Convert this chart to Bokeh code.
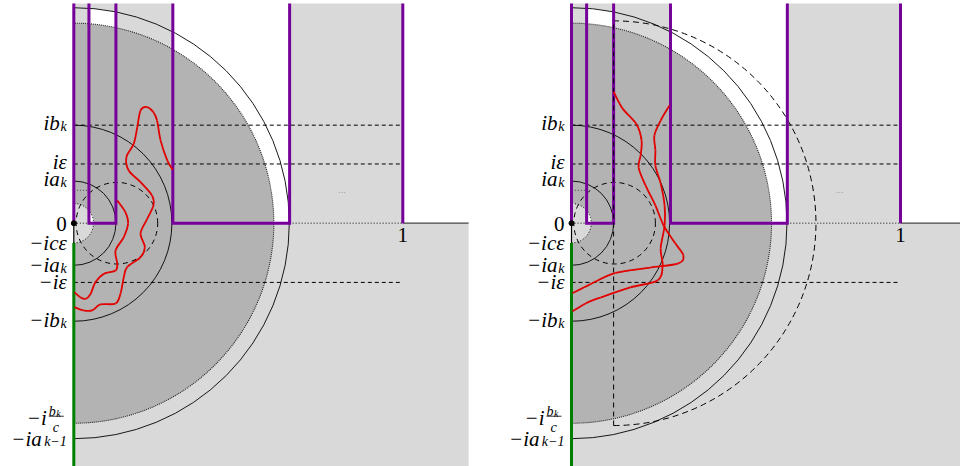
import numpy as np
from bokeh.plotting import figure
from bokeh.layouts import row
from bokeh.models import Range1d
from bokeh.embed import file_html
from bokeh.resources import INLINE
from bokeh.core.properties import value

# ---------------- data (units: the tick "1" sits at x = 1) ----------------
comb_x = [0.0, 0.046, 0.128, 0.301, 0.656, 1.0]   # walls of the comb (purple)
a_k = 0.128
b_k = 0.298
eps = 0.180
c_eps = 0.060
bk_over_c = 0.608
a_km1 = 0.655
dash_circ_center = 0.131
dash_circ_r = 0.124
shift_disk_r = 0.615          # right panel: dashed disk centred at a_k
dotted_level = 0.100
dots_pos = [0.815, 0.103]
comb_top = 0.668
panel_extent = 1.2

tick_values = [b_k, eps, a_k, 0.0, -c_eps, -a_k, -eps, -b_k, -a_km1]
tick_base = ["ib", "iε", "ia", "0", "−icε", "−ia", "−iε", "−ib", "−ia"]
tick_sub = ["k", "", "k", "", "", "k", "", "k", "k−1"]
tick_dy = [-2, -2, -2, 0.5, 0.5, 0, 0, -1, 0]

# red curves (left panel)
left_red_a_x = [0.301, 0.284, 0.264, 0.253, 0.242, 0.223, 0.203, 0.193, 0.182, 0.160, 0.167,
                0.203, 0.238, 0.242, 0.223, 0.203, 0.216, 0.203, 0.162, 0.152, 0.142, 0.127,
                0.081, 0.056, 0.029, 0.002]
left_red_a_y = [0.162, 0.191, 0.251, 0.312, 0.337, 0.353, 0.343, 0.292, 0.241, 0.201, 0.160,
                0.125, 0.084, 0.054, 0.013, -0.031, -0.073, -0.103, -0.134, -0.164, -0.214,
                -0.244, -0.247, -0.265, -0.265, -0.255]
left_red_b_x = [0.132, 0.157, 0.165, 0.152, 0.127, 0.132, 0.127, 0.091, 0.066, 0.051, 0.036,
                0.020, 0.002]
left_red_b_y = [0.069, 0.033, -0.001, -0.042, -0.083, -0.123, -0.144, -0.154, -0.179, -0.215,
                -0.230, -0.225, -0.210]
# red curves (right panel)
right_red_a_x = [0.128, 0.155, 0.198, 0.213, 0.210, 0.204, 0.225, 0.255, 0.280, 0.316, 0.340,
                 0.325, 0.240, 0.134, 0.058, 0.003]
right_red_a_y = [0.400, 0.349, 0.300, 0.251, 0.206, 0.169, 0.115, 0.054, -0.007, -0.062,
                 -0.098, -0.122, -0.135, -0.151, -0.185, -0.213]
right_red_b_x = [0.298, 0.271, 0.252, 0.255, 0.255, 0.271, 0.283, 0.283, 0.271, 0.277, 0.261,
                 0.179, 0.088, 0.043, 0.003]
right_red_b_y = [0.358, 0.312, 0.267, 0.221, 0.175, 0.121, 0.054, -0.007, -0.077, -0.129,
                 -0.174, -0.195, -0.226, -0.244, -0.268]

# ---------------- styling / layout ----------------
SCALE = 329.0       # px per unit
H = 466
ORIGIN_TOP = 222.7
LIGHT = "#d9d9d9"
DARK = "#b3b3b3"
PURPLE = "#75009a"
GREEN = "#008000"
RED = "#e20000"
FONT = value("Liberation Serif")
SUBW = {"k": 7.0, "k−1": 25.0, "": 0.0}
LX = -7


def make_fig(w, ox):
    x0, x1 = -ox / SCALE, (w - ox) / SCALE
    y0, y1 = -(H - ORIGIN_TOP) / SCALE, ORIGIN_TOP / SCALE
    p = figure(width=w, height=H, x_range=Range1d(x0, x1), y_range=Range1d(y0, y1),
               output_backend="svg", toolbar_location=None,
               x_axis_location=None, y_axis_location=None, min_border=0,
               outline_line_color=None, background_fill_color="white",
               border_fill_color="white")
    p.xgrid.visible = False
    p.ygrid.visible = False
    return p, x0, x1, y0, y1


def smooth_curve(p, xs, ys, **kw):
    # Catmull-Rom through the read points, drawn as cubic Bezier segments
    P = np.column_stack([xs, ys])
    n = len(P)
    Pe = np.vstack([P[0], P, P[-1]])
    c0 = P[:-1] + (Pe[2:n + 1] - Pe[0:n - 1]) / 6.0
    c1 = P[1:] - (Pe[3:n + 2] - Pe[1:n]) / 6.0
    p.bezier(x0=P[:-1, 0], y0=P[:-1, 1], x1=P[1:, 0], y1=P[1:, 1],
             cx0=c0[:, 0], cy0=c0[:, 1], cx1=c1[:, 0], cy1=c1[:, 1], **kw)


def draw_panel(p, x0, x1, y0, y1, reds, right=False):
    t0, t1, t2, t3, t4, t5 = comb_x
    top = comb_top
    ext = panel_extent
    # domain (light grey)
    p.quad(left=[0], right=[ext], bottom=[y0 - 0.05], top=[0], color=LIGHT, line_color=None)
    p.quad(left=[t0, t4], right=[t3, t5], bottom=[0, 0], top=[top, top], color=LIGHT, line_color=None)
    # dark annulus
    p.annular_wedge(x=0, y=0, inner_radius=c_eps, outer_radius=bk_over_c,
                    start_angle=-np.pi / 2, end_angle=np.pi / 2, color=DARK, line_color=None)
    # white parts of the first tooth
    xs = np.linspace(t1, t2, 40)
    up = np.sqrt(a_km1 ** 2 - xs ** 2)
    lo = np.sqrt(bk_over_c ** 2 - xs ** 2)
    p.patch(np.concatenate([xs, xs[::-1]]), np.concatenate([lo, up[::-1]]),
            color="white", line_color=None)
    xs2 = np.linspace(t1, c_eps, 20)
    ys2 = np.sqrt(np.clip(c_eps ** 2 - xs2 ** 2, 0, None))
    p.patch(np.concatenate([[t1], xs2]), np.concatenate([[0], ys2]), color="white", line_color=None)

    # circles
    for r in (a_k, b_k, a_km1):
        p.arc(x=0, y=0, radius=r, start_angle=-np.pi / 2, end_angle=np.pi / 2,
              line_color="black", line_width=0.9)
    p.arc(x=0, y=0, radius=bk_over_c, start_angle=-np.pi / 2, end_angle=np.pi / 2,
          line_color="#222222", line_width=1.1, line_dash="1 1")
    p.arc(x=0, y=0, radius=c_eps, start_angle=-np.pi / 2, end_angle=np.pi / 2,
          line_color="black", line_width=1.0, line_dash="1 2")
    p.arc(x=dash_circ_center, y=0, radius=dash_circ_r, start_angle=0, end_angle=2 * np.pi,
          line_color="black", line_width=1.0, line_dash="5 4")
    # horizontal dashed levels
    lv = [b_k, eps, -eps]
    p.segment(x0=[0] * 3, x1=[t5] * 3, y0=lv, y1=lv, line_color="black", line_width=1.0,
              line_dash="4 3")
    # axis pieces
    p.segment(x0=[t0, t4], x1=[t1, t5], y0=[0, 0], y1=[0, 0], line_color="black",
              line_width=1.0, line_dash="1 2")
    p.segment(x0=[0.01], x1=[t1], y0=[dotted_level], y1=[dotted_level], line_color="#444444",
              line_width=1.0, line_dash="1 2")
    p.segment(x0=[t5], x1=[ext], y0=[0], y1=[0], line_color="#444444", line_width=1.3)
    p.segment(x0=[0], x1=[0], y0=[0], y1=[-c_eps], line_color="black", line_width=1.2)

    if right:
        p.arc(x=a_k, y=0, radius=shift_disk_r, start_angle=-np.pi / 2, end_angle=np.pi / 2,
              line_color="black", line_width=1.0, line_dash="6 4")

    # purple comb
    p.multi_line(xs=[[t0, t0], [t1, t1, t2, t2], [t3, t3, t4, t4], [t5, t5]],
                 ys=[[top, 0], [top, 0, 0, top], [top, 0, 0, top], [0, top]],
                 line_color=PURPLE, line_width=3, line_join="miter")
    if right:
        p.segment(x0=[a_k], x1=[a_k], y0=[-shift_disk_r], y1=[shift_disk_r],
                  line_color="black", line_width=1.0, line_dash="5 4")
    # green part of imaginary axis
    p.segment(x0=[0], x1=[0], y0=[-c_eps], y1=[y0 - 0.05], line_color=GREEN, line_width=3)
    p.scatter(x=[0], y=[0], size=5, color="black")

    # red curves
    for cx, cy in reds:
        smooth_curve(p, cx, cy, line_color=RED, line_width=1.8)

    # labels
    for v, b, s, dy in zip(tick_values, tick_base, tick_sub, tick_dy):
        sw = SUBW[s]
        style = "normal" if b == "0" else "italic"
        p.text(x=[0], y=[v], text=[b], x_offset=LX - sw, y_offset=dy, text_align="right",
               text_baseline="alphabetic", text_font=FONT, text_font_style=style,
               text_font_size="21px", text_color="black")
        if s:
            p.text(x=[0], y=[v], text=[s], x_offset=LX, y_offset=dy + 3, text_align="right",
                   text_baseline="alphabetic", text_font=FONT, text_font_style="italic",
                   text_font_size="14px", text_color="black")
    # fraction label  -i b_k / c
    v = -bk_over_c
    p.text(x=[0], y=[v], text=["−i"], x_offset=-27, y_offset=-5, text_align="right",
           text_baseline="alphabetic", text_font=FONT, text_font_style="italic",
           text_font_size="21px", text_color="black")
    p.text(x=[0], y=[v], text=["b"], x_offset=-25, y_offset=-12, text_align="left",
           text_baseline="alphabetic", text_font=FONT, text_font_style="italic",
           text_font_size="14px", text_color="black")
    p.text(x=[0], y=[v], text=["k"], x_offset=-17.5, y_offset=-10, text_align="left",
           text_baseline="alphabetic", text_font=FONT, text_font_style="italic",
           text_font_size="10px", text_color="black")
    p.text(x=[0], y=[v], text=["c"], x_offset=-18, y_offset=4, text_align="center",
           text_baseline="alphabetic", text_font=FONT, text_font_style="italic",
           text_font_size="14px", text_color="black")
    p.segment(x0=[-25 / SCALE], x1=[-10 / SCALE], y0=[v + 7 / SCALE], y1=[v + 7 / SCALE],
              line_color="black", line_width=0.8)
    # tick "1"
    p.text(x=[t5], y=[0], text=["1"], y_offset=12, text_align="center",
           text_baseline="alphabetic", text_font=FONT, text_font_size="21px", text_color="black")
    # ellipsis
    p.text(x=[dots_pos[0]], y=[dots_pos[1]], text=["..."], text_align="center",
           text_baseline="middle", text_font=value("DejaVu Sans"), text_font_size="8px",
           text_color="#999999")


pl, *rl = make_fig(498, 73.3)
draw_panel(pl, *rl, reds=[(left_red_a_x, left_red_a_y), (left_red_b_x, left_red_b_y)])
pr, *rr = make_fig(462, 73.0)
draw_panel(pr, *rr, reds=[(right_red_a_x, right_red_a_y), (right_red_b_x, right_red_b_y)],
           right=True)

layout = row(pl, pr, spacing=0)
open("out.html", "w").write(file_html(layout, INLINE))
